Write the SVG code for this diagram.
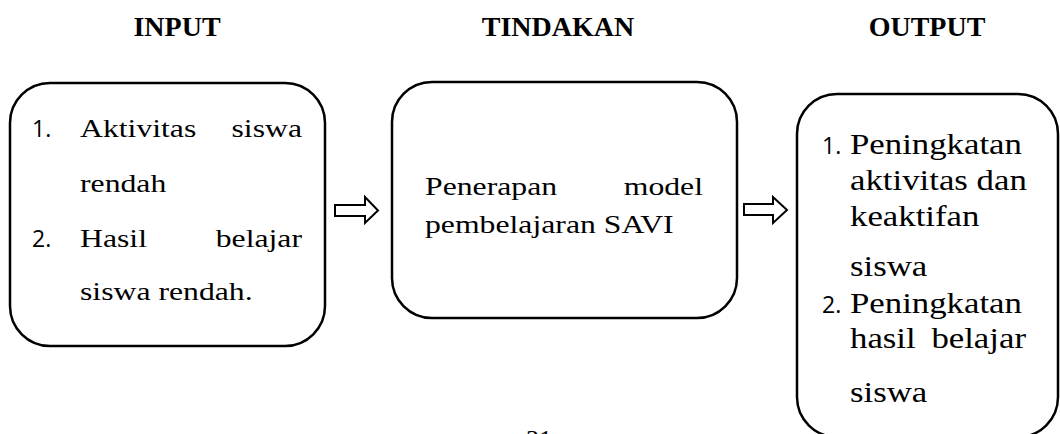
<svg xmlns="http://www.w3.org/2000/svg" width="1060" height="434" viewBox="0 0 1060 434">
<style>
.box{fill:#fff;stroke:#000;stroke-width:2.5}
.hd{font-family:"Liberation Serif",serif;font-weight:bold;font-size:28px;fill:#000;text-anchor:middle}
.t{font-family:"Liberation Serif",serif;font-size:26px;fill:#000}
.t3{font-family:"Liberation Serif",serif;font-size:29px;fill:#000}
.e{text-anchor:end}
.n{font-family:"Open Sans","Liberation Sans",sans-serif;font-size:23px;fill:#000}
.arr{fill:#fff;stroke:#000;stroke-width:2;stroke-linejoin:miter}
</style>
<rect width="1060" height="434" fill="#fff"/>
<g id="headers">
<text class="hd" x="177" y="36">INPUT</text>
<text class="hd" x="558" y="36">TINDAKAN</text>
<text class="hd" x="927" y="36">OUTPUT</text>
</g>
<g id="input">
<rect class="box" x="10" y="83" width="315" height="263" rx="40" ry="40"/>
<text class="n" x="32" y="137">1.</text>
<text class="t" transform="translate(80,137) scale(1.22,1)">Aktivitas</text>
<text class="t e" transform="translate(302,137) scale(1.22,1)">siswa</text>
<text class="t" transform="translate(80,192) scale(1.22,1)">rendah</text>
<text class="n" x="32" y="247">2.</text>
<text class="t" transform="translate(80,247) scale(1.22,1)">Hasil</text>
<text class="t e" transform="translate(302,247) scale(1.22,1)">belajar</text>
<text class="t" transform="translate(80,300) scale(1.22,1)">siswa rendah.</text>
</g>
<g id="tindakan">
<rect class="box" x="392" y="82" width="345" height="236" rx="40" ry="40"/>
<text class="t" transform="translate(425,195) scale(1.22,1)">Penerapan</text>
<text class="t e" transform="translate(703,195) scale(1.22,1)">model</text>
<text class="t" transform="translate(425,233) scale(1.22,1)">pembelajaran SAVI</text>
</g>
<g id="output">
<rect class="box" x="797" y="94" width="261" height="343" rx="40" ry="40"/>
<text class="n" x="822" y="154">1.</text>
<text class="t3" transform="translate(850,154) scale(1.2,1)">Peningkatan</text>
<text class="t3" transform="translate(850,190) scale(1.2,1)">aktivitas dan</text>
<text class="t3" transform="translate(850,226) scale(1.2,1)">keaktifan</text>
<text class="t3" transform="translate(850,276) scale(1.2,1)">siswa</text>
<text class="n" x="822" y="313">2.</text>
<text class="t3" transform="translate(850,313) scale(1.2,1)">Peningkatan</text>
<text class="t3" transform="translate(850,348) scale(1.2,1)">hasil</text>
<text class="t3 e" transform="translate(1026,348) scale(1.2,1)">belajar</text>
<text class="t3" transform="translate(850,402) scale(1.2,1)">siswa</text>
</g>
<g id="connectors">
<polygon class="arr" points="335,205 365,205 365,197 378,210.5 365,223 365,216 335,216"/>
<polygon class="arr" points="744,204 773,204 773,197 787,210 773,223 773,215 744,215"/>
</g>
<text class="t" x="526" y="448">31</text>
</svg>
